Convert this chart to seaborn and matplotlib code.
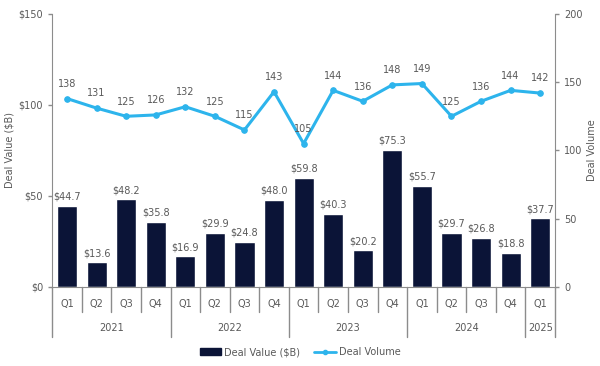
import numpy as np
import pandas as pd
import seaborn as sns
import matplotlib.pyplot as plt
import matplotlib.transforms as mtransforms
from matplotlib.patches import Patch
from matplotlib.lines import Line2D

# chart data
years = ['2021'] * 4 + ['2022'] * 4 + ['2023'] * 4 + ['2024'] * 4 + ['2025']
quarters = ['Q1', 'Q2', 'Q3', 'Q4'] * 4 + ['Q1']
deal_value = [44.7, 13.6, 48.2, 35.8, 16.9, 29.9, 24.8, 48.0, 59.8, 40.3, 20.2, 75.3,
              55.7, 29.7, 26.8, 18.8, 37.7]
deal_volume = [138, 131, 125, 126, 132, 125, 115, 143, 105, 144, 136, 148,
               149, 125, 136, 144, 142]

NAVY = '#0b1437'
BLUE = '#2db4ec'
GREY = '#595959'
AXGREY = '#8c8c8c'

df = pd.DataFrame({'year': years, 'quarter': quarters,
                   'value': deal_value, 'volume': deal_volume})
df['label'] = df['year'] + ' ' + df['quarter']
df['pos'] = np.arange(len(df))

sns.set_style('white')
plt.rcParams['font.family'] = ['DejaVu Sans']

fig = plt.figure(figsize=(6, 3.66), dpi=100)
ax = fig.add_axes([0.087, 0.216, 0.838, 0.746])

sns.barplot(data=df, x='label', y='value', color=NAVY, width=0.68,
            saturation=1, ax=ax)
ax.set_ylim(0, 150)
ax.set_yticks([0, 50, 100, 150])
ax.set_yticklabels(['$0', '$50', '$100', '$150'])
ax.set_xlim(-0.5, len(df) - 0.5)
ax.set_xlabel('')
ax.set_ylabel('Deal Value ($B)', color=GREY, fontsize=7, labelpad=3)
ax.tick_params(axis='y', colors=AXGREY, labelcolor=GREY, labelsize=7,
               length=3, width=1)
ax.set_xticks(df['pos'])
ax.set_xticklabels(df['quarter'])
ax.tick_params(axis='x', length=0, labelsize=7, labelcolor=GREY, pad=9)

for i, v in enumerate(df['value']):
    ax.annotate(f'${v:.1f}', (i, v), xytext=(0, 3), textcoords='offset points',
                ha='center', va='bottom', fontsize=7, color=GREY)

ax2 = ax.twinx()
sns.lineplot(data=df, x='pos', y='volume', color=BLUE, lw=2.2, marker='o',
             markersize=4, markeredgecolor=BLUE, ax=ax2)
ax2.set_ylim(0, 200)
ax2.set_yticks([0, 50, 100, 150, 200])
ax2.set_ylabel('Deal Volume', color=GREY, fontsize=7, labelpad=3)
ax2.tick_params(axis='y', colors=AXGREY, labelcolor=GREY, labelsize=7,
                length=3, width=1)
ax2.set_xlim(-0.5, len(df) - 0.5)

for i, v in enumerate(df['volume']):
    ax2.annotate(f'{v}', (i, v), xytext=(0, 7), textcoords='offset points',
                 ha='center', va='bottom', fontsize=7, color=GREY)

for a in (ax, ax2):
    a.spines['top'].set_visible(False)
    a.spines['left'].set_color(AXGREY)
    a.spines['right'].set_color(AXGREY)
    a.spines['bottom'].set_color(AXGREY)
ax.spines['right'].set_visible(False)
ax2.spines['left'].set_visible(False)
ax2.spines['bottom'].set_visible(False)

# category axis separators
trans = mtransforms.blended_transform_factory(ax.transData, ax.transAxes)
n = len(df)
for b in range(n + 1):
    x = b - 0.5
    is_year = b == 0 or b == n or years[b] != years[b - 1]
    low = -0.185 if is_year else -0.09
    ax.plot([x, x], [0, low], transform=trans, color=AXGREY, lw=1,
            clip_on=False)

for yr in pd.unique(df['year']):
    sub = df[df['year'] == yr]
    xc = sub['pos'].mean()
    ax.text(xc, -0.15, yr, transform=trans, ha='center', va='center',
            fontsize=7, color=GREY)

handles = [Patch(facecolor=NAVY, edgecolor=NAVY, label='Deal Value ($B)'),
           Line2D([0], [0], color=BLUE, lw=2, marker='o', markersize=3,
                  label='Deal Volume')]
fig.legend(handles=handles, loc='center', bbox_to_anchor=(0.5, 0.038), ncol=2,
           frameon=False, fontsize=7, labelcolor=GREY, handlelength=2.2,
           handletextpad=0.3, columnspacing=1.5)

fig.savefig('out.png', dpi=100)
